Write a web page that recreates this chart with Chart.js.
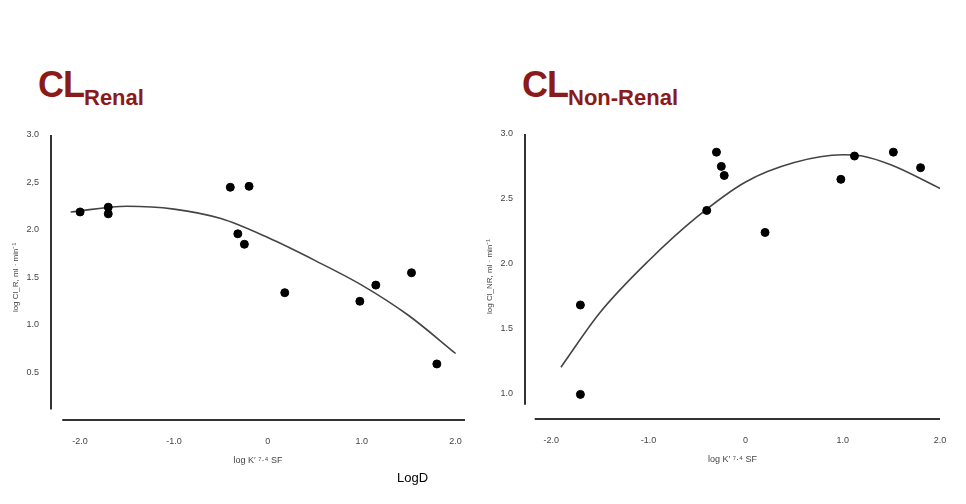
<!DOCTYPE html>
<html>
<head>
<meta charset="utf-8">
<script src="https://cdn.jsdelivr.net/npm/chart.js"></script>
<style>
    body { margin: 0; width: 966px; height: 504px; background: #fff; position: relative; overflow: hidden; font-family: "Liberation Sans", Arial, sans-serif; }
    .wrap { position: absolute; top: 0; height: 504px; }
    .head { position: absolute; color: #8B1A1A; font-weight: bold; font-size: 36px; letter-spacing: -1px; }
    .head sub { font-size: 22px; letter-spacing: 0; vertical-align: -8px; }
    #logd { position: absolute; left: 397px; top: 470px; font-size: 13px; color: #000; }
</style>
</head>
<body>
<div class="head" style="left:38px; top:64px;">CL<sub>Renal</sub></div>
<div class="head" style="left:522px; top:64px;">CL<sub>Non-Renal</sub></div>
<div class="wrap" style="left:0; width:480px;"><canvas id="chartR"></canvas></div>
<div class="wrap" style="left:480px; width:486px;"><canvas id="chartNR"></canvas></div>
<div id="logd">LogD</div>
<script>
// Renal clearance points (log K vs log Cl)
const renalX = [-2.0, -1.7, -1.7, -0.4, -0.2, -0.32, -0.25, 0.18, 0.98, 1.15, 1.53, 1.8];
const renalY = [2.19, 2.24, 2.17, 2.45, 2.46, 1.96, 1.85, 1.34, 1.25, 1.42, 1.55, 0.59];
const renalFitX = [-2.1, -1.5, -1.0, -0.5, 0, 0.5, 1.0, 1.5, 2.0];
const renalFitY = [2.19, 2.25, 2.22, 2.12, 1.92, 1.68, 1.42, 1.1, 0.7];
const renalTicks = ['3.0', '2,5', '2.0', '1.5', '1.0', '0.5'];

// Non-renal clearance points
const nonRenalX = [-1.7, -1.7, -0.4, -0.3, -0.25, -0.22, 0.2, 0.98, 1.12, 1.52, 1.8];
const nonRenalY = [1.68, 0.99, 2.41, 2.86, 2.75, 2.68, 2.24, 2.65, 2.83, 2.86, 2.74];
const nonRenalFitX = [-1.9, -1.5, -1.0, -0.5, 0, 0.5, 1.0, 1.2, 1.5, 2.0];
const nonRenalFitY = [1.2, 1.62, 2.02, 2.36, 2.63, 2.78, 2.84, 2.83, 2.76, 2.58];
const nonRenalTicks = ['3.0', '2.5', '2.0', '1.5', '1.0'];

const xTicks = ['-2.0', '-1.0', '0', '1.0', '2.0'];

function pts(xs, ys) {
    return xs.map((x, i) => ({ x: x, y: ys[i] }));
}

// draws the two axis lines separately, like the scanned figure
function axesPlugin(yFrom, xFrom, xTo) {
    return {
        id: 'axes',
        afterDraw(chart) {
            const c = chart.ctx, xs = chart.scales.x, ys = chart.scales.y;
            c.save();
            c.strokeStyle = '#333';
            c.lineWidth = 2;
            c.beginPath();
            c.moveTo(xs.left, ys.top);
            c.lineTo(xs.left, ys.getPixelForValue(yFrom));
            c.moveTo(xs.getPixelForValue(xFrom), ys.bottom);
            c.lineTo(xs.getPixelForValue(xTo), ys.bottom);
            c.stroke();
            c.restore();
        }
    };
}

function makeChart(id, o) {
    return new Chart(document.getElementById(id), {
        type: 'scatter',
        data: {
            datasets: [{
                data: pts(o.px, o.py),
                backgroundColor: '#000',
                borderColor: '#000',
                pointRadius: 4
            }, {
                type: 'line',
                data: pts(o.fx, o.fy),
                borderColor: '#444',
                borderWidth: 1.6,
                pointRadius: 0,
                cubicInterpolationMode: 'monotone',
                fill: false
            }]
        },
        options: {
            responsive: false,
            animation: false,
            layout: { padding: o.pad },
            plugins: { legend: { display: false }, tooltip: { enabled: false } },
            scales: {
                x: {
                    type: 'linear', min: o.xmin, max: o.xmax,
                    border: { display: false },
                    grid: { display: false },
                    afterBuildTicks: s => { s.ticks = [-2, -1, 0, 1, 2].map(v => ({ value: v })); },
                    ticks: { callback: (v, i) => xTicks[i], color: '#444', font: { size: 9 }, padding: 8 },
                    title: { display: true, text: "log K′ ⁷·⁴ SF", color: '#444', font: { size: 9 }, padding: { top: 12 } },
                    afterFit: s => { s.height = 50; }
                },
                y: {
                    type: 'linear', min: o.ymin, max: 3.0,
                    border: { display: false },
                    grid: { display: false },
                    afterBuildTicks: s => { s.ticks = o.yvals.map(v => ({ value: v })); },
                    ticks: { callback: (v, i) => o.yticks[i], color: '#444', font: { size: 9 }, padding: 4 },
                    title: { display: true, text: o.ytitle, color: '#444', font: { size: 8 }, padding: 0 },
                    afterFit: s => { s.width = 40; }
                }
            }
        },
        plugins: [axesPlugin(o.yAxisEnd, o.xLineFrom, o.xLineTo)]
    });
}

document.getElementById('chartR').width = 480;
document.getElementById('chartR').height = 504;
document.getElementById('chartNR').width = 486;
document.getElementById('chartNR').height = 504;

makeChart('chartR', {
    px: renalX, py: renalY, fx: renalFitX, fy: renalFitY,
    xmin: -2.31, xmax: 2.1, ymin: 0.0,
    yvals: [3.0, 2.5, 2.0, 1.5, 1.0, 0.5], yticks: renalTicks,
    ytitle: 'log Cl_R, ml · min⁻¹',
    pad: { left: 11, right: 15, top: 135, bottom: 34 },
    yAxisEnd: 0.11, xLineFrom: -2.19, xLineTo: 2.1
});

makeChart('chartNR', {
    px: nonRenalX, py: nonRenalY, fx: nonRenalFitX, fy: nonRenalFitY,
    xmin: -2.27, xmax: 2.0, ymin: 0.8,
    yvals: [3.0, 2.5, 2.0, 1.5, 1.0], yticks: nonRenalTicks,
    ytitle: 'log Cl_NR, ml · min⁻¹',
    pad: { left: 5, right: 26, top: 134, bottom: 35 },
    yAxisEnd: 0.91, xLineFrom: -2.17, xLineTo: 2.0
});
</script>
</body>
</html>
